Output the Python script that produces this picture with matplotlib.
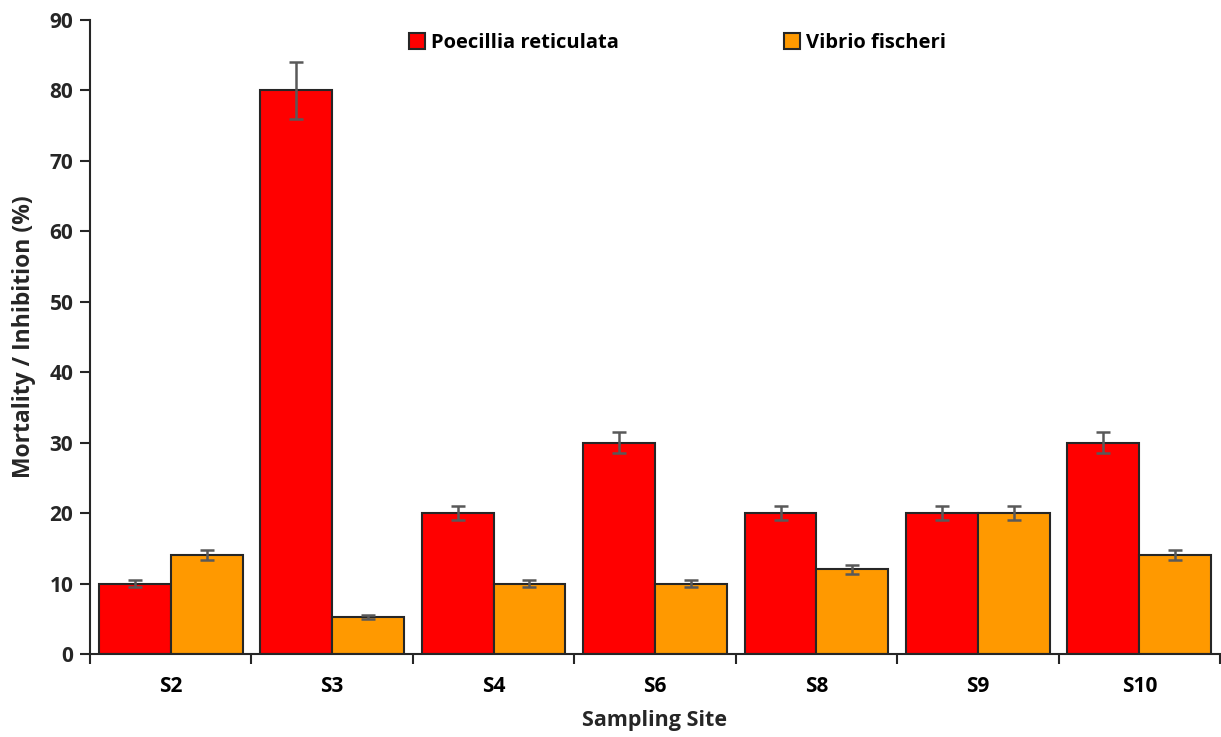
import numpy as np
import matplotlib.pyplot as plt

plt.rcParams['font.family'] = ['Open Sans', 'DejaVu Sans']
plt.rcParams['font.weight'] = 'bold'

# data
sites = ['S2', 'S3', 'S4', 'S6', 'S8', 'S9', 'S10']
poecilia = [10, 80, 20, 30, 20, 20, 30]
poecilia_err = [0.5, 4, 1, 1.5, 1, 1, 1.5]
vibrio = [14, 5.3, 10, 10, 12, 20, 14]
vibrio_err = [0.7, 0.27, 0.5, 0.5, 0.6, 1, 0.7]

fig = plt.figure(figsize=(12.21, 7.37), dpi=100)
ax = fig.add_axes([90 / 1221, 1 - 654 / 737, 1130 / 1221, 634 / 737])

x = np.arange(len(sites))
w = 0.445
err_kw = dict(ecolor='#595959', elinewidth=1.8, capsize=5, capthick=1.8)

ax.bar(x - w / 2, poecilia, w, yerr=poecilia_err, color='#ff0000',
       edgecolor='#262626', linewidth=1.5, label='Poecillia reticulata',
       error_kw=err_kw)
ax.bar(x + w / 2, vibrio, w, yerr=vibrio_err, color='#ff9900',
       edgecolor='#262626', linewidth=1.5, label='Vibrio fischeri',
       error_kw=err_kw)

ax.set_xlim(-0.5, len(sites) - 0.5)
ax.set_ylim(0, 90)
ax.set_yticks(range(0, 91, 10))

# category labels between boundary ticks
ax.set_xticks(np.arange(-0.5, len(sites), 1))
ax.set_xticklabels([])
ax.set_xticks(x, minor=True)
ax.set_xticklabels(sites, minor=True)
ax.tick_params(axis='x', which='minor', length=0, pad=16, labelsize=15,
               labelcolor='black')
ax.tick_params(axis='x', which='major', length=7, width=1.5, color='#262626',
               direction='out')
ax.tick_params(axis='y', length=7, width=1.5, color='#262626', labelsize=15,
               labelcolor='#262626', pad=5)

for s in ['top', 'right']:
    ax.spines[s].set_visible(False)
for s in ['left', 'bottom']:
    ax.spines[s].set_linewidth(1.5)
    ax.spines[s].set_color('#262626')

ax.set_xlabel('Sampling Site', fontsize=15.5, fontweight='bold', labelpad=9,
              color='#262626')
ax.set_ylabel('Mortality / Inhibition (%)', fontsize=16.5, fontweight='bold',
              labelpad=10, color='#262626')

leg = ax.legend(loc='center', bbox_to_anchor=(0.52, 0.9637), ncol=2,
                frameon=False, fontsize=14.5, handlelength=0.8,
                handleheight=0.8, handletextpad=0.3, columnspacing=8.2)
for t in leg.get_texts():
    t.set_fontweight('bold')

fig.savefig('out.png', dpi=100)
